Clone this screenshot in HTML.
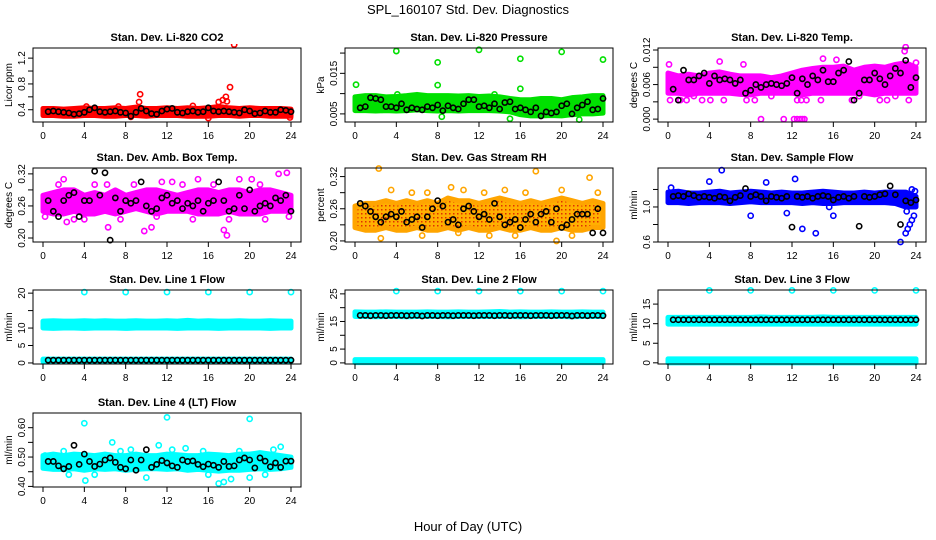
<!DOCTYPE html>
<html><head><meta charset="utf-8"><style>
html,body{margin:0;padding:0;background:#fff;}
svg{display:block;font-family:"Liberation Sans",Arial,sans-serif;}
</style></head><body>
<svg id="chart" width="936" height="540" viewBox="0 0 936 540">
<text x="468" y="14" text-anchor="middle" font-size="13">SPL_160107  Std. Dev. Diagnostics</text>
<text x="468" y="531" text-anchor="middle" font-size="13">Hour of Day (UTC)</text>
</svg>
<script>
// ---- data ----
const hours = [0,1,2,3,4,5,6,7,8,9,10,11,12,13,14,15,16,17,18,19,20,21,22,23,24];
const xTicks = [0,4,8,12,16,20,24];

const co2Lo = [0.31,0.31,0.30,0.30,0.31,0.31,0.30,0.30,0.31,0.31,0.30,0.31,0.31,0.31,0.30,0.30,0.30,0.31,0.31,0.30,0.31,0.31,0.30,0.30,0.30];
const co2Hi = [0.42,0.42,0.41,0.42,0.43,0.42,0.42,0.43,0.42,0.44,0.42,0.42,0.43,0.42,0.43,0.42,0.43,0.45,0.43,0.42,0.43,0.42,0.42,0.42,0.41];
const co2Pts = [[9.4,0.64],[9.3,0.52],[17,0.52],[17.4,0.55],[17.7,0.6],[17.8,0.53],[18.1,0.75],[18.5,1.41],[16,0.27],[23.9,0.28],[8.5,0.29],[14.5,0.46],[4.2,0.45],[7.3,0.45]];
const co2Mean = [0.37,0.38,0.37,0.36,0.35,0.33,0.34,0.36,0.40,0.43,0.37,0.36,0.37,0.38,0.36,0.35,0.30,0.36,0.42,0.38,0.34,0.33,0.38,0.41,0.42,0.36,0.35,0.37,0.38,0.36,0.37,0.43,0.38,0.37,0.38,0.37,0.36,0.35,0.40,0.38,0.34,0.35,0.38,0.36,0.36,0.40,0.39,0.37];

const prLo = [0.0058,0.0058,0.0057,0.0058,0.0057,0.0058,0.0060,0.0058,0.0057,0.0058,0.0057,0.0058,0.0058,0.0058,0.0057,0.0055,0.0048,0.0045,0.0045,0.0046,0.0045,0.0048,0.0050,0.0050,0.0052];
const prHi = [0.0092,0.0095,0.0095,0.0092,0.0093,0.0095,0.0098,0.0095,0.0095,0.0095,0.0094,0.0095,0.0093,0.0094,0.0092,0.0088,0.0085,0.0085,0.0088,0.0088,0.0085,0.0090,0.0092,0.0095,0.0095];
const prPts = [[0.1,0.0122],[4,0.0205],[8,0.0177],[8,0.0121],[12,0.0208],[16,0.0186],[16,0.0112],[20,0.0203],[24,0.0184],[8.4,0.0043],[21.7,0.0036],[15,0.0038],[4.1,0.0098],[13.5,0.0098]];
const prMean = [0.0065,0.0068,0.0090,0.0088,0.0085,0.0068,0.0068,0.0065,0.0075,0.0060,0.0065,0.0062,0.0060,0.0068,0.0065,0.0072,0.0058,0.0070,0.0065,0.0062,0.0075,0.0085,0.0085,0.0068,0.0070,0.0065,0.0075,0.0062,0.0078,0.0080,0.0062,0.0065,0.0060,0.0055,0.0065,0.0045,0.0055,0.0052,0.0055,0.0070,0.0075,0.0050,0.0065,0.0072,0.0080,0.0060,0.0062,0.0088];

const tpLo = [0.0045,0.0045,0.0042,0.0045,0.0045,0.0045,0.0045,0.0043,0.0042,0.0045,0.0045,0.0045,0.0045,0.0042,0.0045,0.0045,0.0045,0.0045,0.0045,0.0045,0.0042,0.0045,0.0045,0.0045,0.0045];
const tpHi = [0.0080,0.0075,0.0078,0.0075,0.0080,0.0082,0.0078,0.0075,0.0075,0.0075,0.0072,0.0075,0.0080,0.0085,0.0088,0.0090,0.0090,0.0092,0.0085,0.0090,0.0092,0.0090,0.0095,0.0098,0.0090];
const tpPts = [[0.2,0.0033],[1,0.0033],[1.2,0.0033],[1.8,0.0033],[3.3,0.0033],[4.1,0.0033],[5.4,0.0033],[7.6,0.0033],[8.4,0.0033],[12.5,0.0033],[12.9,0.0033],[13.4,0.0033],[14.8,0.0033],[17.8,0.0033],[20.5,0.0033],[21.2,0.0033],[23.3,0.0033],[9,0],[11.2,0],[12.2,0],[12.5,0],[12.8,0],[13,0],[13.2,0],[15,0.0105],[23,0.0125],[22.9,0.0118],[5,0.0100],[7.3,0.0095],[16.3,0.0103],[0.1,0.0095],[24,0.0098],[2.5,0.0040],[10,0.0040],[18.5,0.0040],[22,0.0040]];
const tpMean = [0.0052,0.0033,0.0085,0.0068,0.0068,0.0075,0.0080,0.0062,0.0075,0.0068,0.0070,0.0068,0.0062,0.0068,0.0045,0.0050,0.0060,0.0055,0.0060,0.0062,0.0060,0.0058,0.0062,0.0072,0.0045,0.0070,0.0060,0.0075,0.0068,0.0085,0.0065,0.0065,0.0080,0.0085,0.0100,0.0033,0.0045,0.0068,0.0068,0.0080,0.0070,0.0060,0.0075,0.0088,0.0080,0.0102,0.0055,0.0072];

const abLo = [0.25,0.245,0.245,0.25,0.245,0.245,0.25,0.245,0.25,0.255,0.25,0.245,0.25,0.25,0.25,0.245,0.245,0.245,0.25,0.245,0.245,0.245,0.25,0.25,0.25];
const abHi = [0.28,0.285,0.29,0.29,0.28,0.285,0.28,0.29,0.28,0.285,0.29,0.29,0.285,0.28,0.285,0.29,0.29,0.285,0.29,0.29,0.285,0.29,0.29,0.285,0.28];
const abPts = [[6.3,0.22],[4,0.235],[2.3,0.23],[17.5,0.215],[17.8,0.205],[10.5,0.22],[9.8,0.213],[2,0.31],[6.2,0.30],[12.5,0.305],[19,0.31],[20.2,0.31],[22.8,0.32],[23.6,0.322],[0.2,0.24],[1.5,0.30],[3,0.235],[5,0.30],[7.5,0.235],[8.8,0.30],[11,0.24],[13.5,0.30],[14.5,0.235],[16.5,0.30],[18,0.235],[21,0.30],[21.5,0.235],[23.8,0.24],[15,0.31],[11.5,0.305]];
const abMean = [0.27,0.25,0.24,0.27,0.28,0.285,0.24,0.27,0.27,0.325,0.28,0.322,0.196,0.275,0.25,0.27,0.265,0.27,0.305,0.26,0.25,0.255,0.275,0.28,0.265,0.27,0.255,0.265,0.26,0.27,0.25,0.265,0.27,0.305,0.27,0.25,0.255,0.28,0.255,0.29,0.25,0.26,0.265,0.26,0.275,0.27,0.28,0.25];

const rhLo = [0.225,0.22,0.22,0.225,0.22,0.22,0.225,0.22,0.22,0.225,0.22,0.225,0.22,0.22,0.225,0.22,0.22,0.225,0.22,0.22,0.225,0.22,0.22,0.225,0.225];
const rhHi = [0.265,0.27,0.27,0.275,0.27,0.275,0.27,0.275,0.27,0.28,0.275,0.275,0.27,0.275,0.28,0.275,0.27,0.275,0.27,0.275,0.28,0.275,0.27,0.275,0.27];
const rhPts = [[2.3,0.335],[17.5,0.33],[22.7,0.318],[19.5,0.20],[2.5,0.205],[10,0.215],[3.5,0.295],[5.5,0.29],[7,0.29],[9.3,0.30],[10.5,0.295],[12.5,0.29],[14.5,0.295],[16.5,0.29],[20,0.295],[23.5,0.29],[6.5,0.21],[13,0.21],[15.5,0.21],[21,0.21]];
const rhMean = [0.27,0.265,0.255,0.245,0.235,0.245,0.25,0.245,0.255,0.235,0.24,0.245,0.225,0.245,0.26,0.275,0.265,0.235,0.24,0.23,0.26,0.265,0.255,0.245,0.25,0.24,0.27,0.245,0.23,0.235,0.24,0.225,0.24,0.25,0.235,0.25,0.255,0.235,0.26,0.225,0.23,0.24,0.25,0.25,0.25,0.215,0.26,0.215];

const sfLo = [1.05,1.05,1.04,1.05,1.05,1.05,1.04,1.05,1.06,1.05,1.05,1.05,1.05,1.04,1.05,1.04,1.04,1.05,1.05,1.05,1.05,1.05,1.04,1.00,1.00];
const sfHi = [1.17,1.18,1.16,1.16,1.17,1.18,1.16,1.17,1.18,1.17,1.16,1.17,1.16,1.16,1.17,1.18,1.17,1.16,1.16,1.17,1.16,1.17,1.17,1.17,1.12];
const sfPts = [[5.2,1.42],[4,1.29],[9.5,1.28],[12.3,1.32],[8,0.90],[11.5,0.93],[13,0.75],[14.3,0.70],[16,0.90],[22.5,0.60],[23,0.70],[23.2,0.75],[23.4,0.80],[23.6,0.85],[23.8,0.90],[23.1,0.95],[23.6,1.20],[15.6,1.00],[0.3,1.22],[23.9,1.18]];
const sfMean = [1.12,1.13,1.12,1.15,1.13,1.11,1.12,1.11,1.10,1.12,1.11,1.07,1.11,1.13,1.21,1.12,1.14,1.12,1.07,1.12,1.11,1.10,1.12,0.77,1.12,1.11,1.12,1.10,1.12,1.13,1.12,1.08,1.11,1.12,1.10,1.12,0.78,1.12,1.11,1.12,1.14,1.15,1.24,1.14,0.80,1.07,1.05,1.08];

const l1Lo = [10.0,9.9,10.0,10.0,9.9,10.0,10.0,10.0,9.9,10.0,10.0,10.0,10.0,9.9,10.0,10.0,10.0,9.9,10.0,10.0,10.0,10.0,9.9,10.0,10.0];
const l1Hi = [12.0,12.1,12.0,12.0,12.1,12.0,12.1,12.0,12.0,12.1,12.0,12.0,12.1,12.0,12.2,12.0,12.1,12.0,12.0,12.1,12.0,12.0,12.1,12.0,12.0];
const l1Lo2 = [0.4,0.4,0.4,0.4,0.4,0.4,0.4,0.4,0.4,0.4,0.4,0.4,0.4,0.4,0.4,0.4,0.4,0.4,0.4,0.4,0.4,0.4,0.4,0.4,0.4];
const l1Hi2 = [1.1,1.1,1.1,1.1,1.1,1.1,1.1,1.1,1.1,1.1,1.1,1.1,1.1,1.1,1.1,1.1,1.1,1.1,1.1,1.1,1.1,1.1,1.1,1.1,1.1];
const l1Pts = [[4,20.3],[8,20.3],[12,20.3],[16,20.3],[20,20.3],[24,20.3]];
const l1Mean = [0.8,0.8,0.8,0.8,0.8,0.8,0.8,0.8,0.8,0.8,0.8,0.8,0.8,0.8,0.8,0.8,0.8,0.8,0.8,0.8,0.8,0.8,0.8,0.8,0.8,0.8,0.8,0.8,0.8,0.8,0.8,0.8,0.8,0.8,0.8,0.8,0.8,0.8,0.8,0.8,0.8,0.8,0.8,0.8,0.8,0.8,0.8,0.8];

const l2Lo = [16.8,16.8,16.7,16.8,16.8,16.7,16.8,16.8,16.8,16.7,16.8,16.8,16.8,16.8,16.8,16.8,16.7,16.8,16.8,16.8,16.8,16.7,16.8,16.8,16.8];
const l2Hi = [18.5,18.4,18.4,18.5,18.4,18.4,18.4,18.5,18.4,18.4,18.5,18.4,18.4,18.5,18.6,18.4,18.5,18.4,18.4,18.5,18.4,18.4,18.5,18.4,18.4];
const l2Lo2 = [0.1,0.1,0.1,0.1,0.1,0.1,0.1,0.1,0.1,0.1,0.1,0.1,0.1,0.1,0.1,0.1,0.1,0.1,0.1,0.1,0.1,0.1,0.1,0.1,0.1];
const l2Hi2 = [1.2,1.2,1.2,1.2,1.2,1.2,1.2,1.2,1.2,1.2,1.2,1.2,1.2,1.2,1.2,1.2,1.2,1.2,1.2,1.2,1.2,1.2,1.2,1.2,1.2];
const l2Pts = [[4,26],[8,26],[12,26],[16,26],[20,26],[24,26]];
const l2Mean = [17.2,17.2,17.1,17.2,17.2,17.1,17.2,17.2,17.2,17.1,17.2,17.2,17.0,17.2,17.2,17.1,17.2,17.2,17.1,17.2,17.2,17.2,17.1,17.2,17.2,17.2,17.1,17.2,17.2,17.1,17.2,17.2,17.2,17.1,17.2,17.2,17.2,17.1,17.2,17.2,17.2,17.0,17.2,17.2,17.1,17.2,17.2,17.1];

const l3Lo = [9.9,9.9,9.9,9.9,9.9,9.9,9.9,9.9,9.9,9.9,9.9,9.9,9.9,9.9,9.9,9.9,9.9,9.9,9.9,9.9,9.9,9.9,9.9,9.9,9.9];
const l3Hi = [11.6,11.6,11.6,11.6,11.6,11.6,11.6,11.6,11.6,11.7,11.6,11.6,11.6,11.6,11.6,11.7,11.6,11.6,11.6,11.6,11.6,11.6,11.6,11.6,11.6];
const l3Lo2 = [0.0,0.0,0.0,0.0,0.0,0.0,0.0,0.0,0.0,0.0,0.0,0.0,0.0,0.0,0.0,0.0,0.0,0.0,0.0,0.0,0.0,0.0,0.0,0.0,0.0];
const l3Hi2 = [1.0,1.0,1.0,1.0,1.0,1.0,1.0,1.0,1.0,1.0,1.0,1.0,1.0,1.0,1.0,1.0,1.0,1.0,1.0,1.0,1.0,1.0,1.0,1.0,1.0];
const l3Pts = [[4,18.5],[8,18.5],[12,18.5],[16,18.5],[20,18.5],[24,18.5]];
const l3Mean = [11.0,11.0,11.0,11.0,11.0,11.0,11.0,11.0,11.0,11.0,11.0,11.0,11.0,11.0,11.0,11.0,11.0,11.0,11.0,11.0,11.0,11.0,11.0,11.0,11.0,11.0,11.0,11.0,11.0,11.0,11.0,11.0,11.0,11.0,11.0,11.0,11.0,11.0,11.0,11.0,11.0,11.0,11.0,11.0,11.0,11.0,11.0,11.0];

const l4Lo = [0.462,0.458,0.458,0.46,0.455,0.46,0.458,0.46,0.455,0.458,0.46,0.46,0.458,0.46,0.455,0.458,0.455,0.452,0.455,0.455,0.458,0.46,0.458,0.46,0.465];
const l4Hi = [0.505,0.51,0.505,0.51,0.508,0.505,0.51,0.505,0.505,0.51,0.505,0.505,0.51,0.508,0.505,0.505,0.51,0.508,0.505,0.51,0.51,0.515,0.51,0.505,0.50];
const l4Pts = [[4,0.615],[12,0.635],[20,0.63],[6.7,0.55],[11.2,0.54],[12.5,0.525],[17,0.41],[17.5,0.415],[20,0.43],[4.1,0.42],[23,0.535],[22.3,0.525],[2,0.52],[5,0.44],[7.5,0.52],[8.5,0.525],[10,0.43],[13.8,0.53],[15.5,0.52],[18.2,0.425],[19,0.52],[21.5,0.44],[0.2,0.505],[2.5,0.44],[16,0.44]];
const l4Mean = [0.485,0.485,0.47,0.46,0.468,0.54,0.475,0.51,0.485,0.468,0.476,0.49,0.497,0.482,0.465,0.46,0.49,0.455,0.49,0.525,0.465,0.475,0.488,0.48,0.47,0.465,0.49,0.485,0.487,0.475,0.467,0.476,0.472,0.465,0.485,0.468,0.47,0.49,0.497,0.49,0.463,0.497,0.486,0.467,0.48,0.465,0.486,0.486];

// ---- layout ----
const svg = document.getElementById('chart');
const NS = 'http://www.w3.org/2000/svg';
function mk(tag, attrs, parent){const e=document.createElementNS(NS,tag);for(const k in attrs)e.setAttribute(k,attrs[k]);(parent||svg).appendChild(e);return e;}

const panels = [
 {id:'co2',title:'Stan. Dev. Li-820 CO2',ylab:'Licor ppm',col:0,row:0,ymin:0.21,ymax:1.357,ticks:[0.4,0.6,0.8,1.0,1.2],labels:['0.4','','0.8','','1.2'],color:'#ff0000',bands:[[co2Lo,co2Hi]],pts:co2Pts,mean:co2Mean},
 {id:'pressure',title:'Stan. Dev. Li-820 Pressure',ylab:'kPa',col:1,row:0,ymin:0.003,ymax:0.02125,ticks:[0.005,0.010,0.015,0.020],labels:['0.005','','0.015',''],color:'#00e000',bands:[[prLo,prHi]],pts:prPts,mean:prMean},
 {id:'temp',title:'Stan. Dev. Li-820 Temp.',ylab:'degrees C',col:2,row:0,ymin:-0.0005,ymax:0.01235,ticks:[0,0.003,0.006,0.009,0.012],labels:['0.000','','0.006','','0.012'],color:'#ff00ff',bands:[[tpLo,tpHi]],pts:tpPts,mean:tpMean},
 {id:'ambbox',title:'Stan. Dev. Amb. Box Temp.',ylab:'degrees C',col:0,row:1,ymin:0.1925,ymax:0.331,ticks:[0.20,0.23,0.26,0.29,0.32],labels:['0.20','','0.26','','0.32'],color:'#ff00ff',bands:[[abLo,abHi]],pts:abPts,mean:abMean},
 {id:'rh',title:'Stan. Dev. Gas Stream RH',ylab:'percent',col:1,row:1,ymin:0.198,ymax:0.336,ticks:[0.20,0.23,0.26,0.29,0.32],labels:['0.20','','0.26','','0.32'],color:'#ffa500',bands:[[rhLo,rhHi]],pts:rhPts,mean:rhMean},
 {id:'sampleflow',title:'Stan. Dev. Sample Flow',ylab:'ml/min',col:2,row:1,ymin:0.6,ymax:1.445,ticks:[0.6,0.8,1.0,1.2],labels:['0.6','','1.0',''],color:'#0000ff',bands:[[sfLo,sfHi]],pts:sfPts,mean:sfMean},
 {id:'line1',title:'Stan. Dev. Line 1 Flow',ylab:'ml/min',col:0,row:2,ymin:-0.3,ymax:20.9,ticks:[0,5,10,15,20],labels:['0','5','10','','20'],color:'#00ffff',bands:[[l1Lo,l1Hi],[l1Lo2,l1Hi2]],pts:l1Pts,mean:l1Mean},
 {id:'line2',title:'Stan. Dev. Line 2 Flow',ylab:'ml/min',col:1,row:2,ymin:-0.4,ymax:26.4,ticks:[0,5,10,15,20,25],labels:['0','5','','15','','25'],color:'#00ffff',bands:[[l2Lo,l2Hi],[l2Lo2,l2Hi2]],pts:l2Pts,mean:l2Mean},
 {id:'line3',title:'Stan. Dev. Line 3 Flow',ylab:'ml/min',col:2,row:2,ymin:-0.3,ymax:18.6,ticks:[0,5,10,15],labels:['0','5','10','15'],color:'#00ffff',bands:[[l3Lo,l3Hi],[l3Lo2,l3Hi2]],pts:l3Pts,mean:l3Mean},
 {id:'line4',title:'Stan. Dev. Line 4 (LT) Flow',ylab:'ml/min',col:0,row:3,ymin:0.398,ymax:0.65,ticks:[0.40,0.45,0.50,0.55,0.60],labels:['0.40','','0.50','','0.60'],color:'#00ffff',bands:[[l4Lo,l4Hi]],pts:l4Pts,mean:l4Mean}
];
const colLeft=[33,345,658], rowTop=[48,168,290,413], W=268, H=74;

panels.forEach(p=>{
  const L=colLeft[p.col], T=rowTop[p.row], B=T+H;
  const g=mk('g',{});
  
  
  const xs=v=>L+10+v*(W-20)/24;
  const ys=v=>B-(v-p.ymin)/(p.ymax-p.ymin)*H;
  const clipId='clip-'+p.id;
  const cp=mk('clipPath',{id:clipId},g); mk('rect',{x:L-4,y:T-4,width:W+8,height:H+8},cp);
  const t=mk('text',{x:L+W/2,y:T-7,'text-anchor':'middle','font-size':'11','font-weight':'bold'},g); t.textContent=p.title;
  
  
  const plot=mk('g',{'clip-path':'url(#'+clipId+')'},g);
  p.bands.forEach(b=>{
    const lo=b[0],hi=b[1];
    let pts=hours.map((h,i)=>xs(h)+','+ys(lo[i]));
    pts=pts.concat(hours.slice().reverse().map((h,j)=>{const i=hours.length-1-j;return xs(h)+','+ys(hi[i]);}));
    const pg=mk('polygon',{points:pts.join(' '),fill:p.color,stroke:p.color,'stroke-width':5,'stroke-linejoin':'round'},plot);
    
    
    if(p.id==='rh'){pg.setAttribute('fill','url(#rhpat)');}
  });
  p.pts.forEach(d=>{
    const c=mk('circle',{cx:xs(d[0]),cy:ys(d[1]),r:2.6,fill:'none',stroke:p.color,'stroke-width':1.6},plot);
    
    
  });
  p.mean.forEach((v,i)=>{
    const c=mk('circle',{cx:xs((i+1)*0.5),cy:ys(v),r:2.6,fill:'none',stroke:'#000','stroke-width':1.6},plot);
    
    
  });
  const box=mk('rect',{x:L,y:T,width:W,height:H,fill:'none',stroke:'#000','stroke-width':1},g);
  
  
  // y axis
  p.ticks.forEach((tv,i)=>{
    const y=ys(tv);
    mk('line',{x1:L-5,x2:L,y1:y,y2:y,stroke:'#000'},g);
    if(p.labels[i]){
      const tl=mk('text',{x:L-8,y:y,'text-anchor':'middle','font-size':'10',transform:'rotate(-90 '+(L-8)+' '+y+')'},g);
      tl.textContent=p.labels[i];
      
      
    }
  });
  const yl=mk('text',{x:L-21,y:T+H/2,'text-anchor':'middle','font-size':'10',transform:'rotate(-90 '+(L-21)+' '+(T+H/2)+')'},g);
  yl.textContent=p.ylab;
  
  
  // x axis
  xTicks.forEach(tv=>{
    const x=xs(tv);
    mk('line',{x1:x,x2:x,y1:B,y2:B+5,stroke:'#000'},g);
    const tl=mk('text',{x:x,y:B+17,'text-anchor':'middle','font-size':'10'},g);
    tl.textContent=tv;
    
    
  });
});
// pattern for RH mixture of orange/red
const defs=mk('defs',{});
const pat=mk('pattern',{id:'rhpat',width:4,height:4,patternUnits:'userSpaceOnUse'},defs);
mk('rect',{width:4,height:4,fill:'#ffb000'},pat);
mk('rect',{x:1,y:1,width:1.5,height:1.5,fill:'#e03000'},pat);
</script>
</body></html>
